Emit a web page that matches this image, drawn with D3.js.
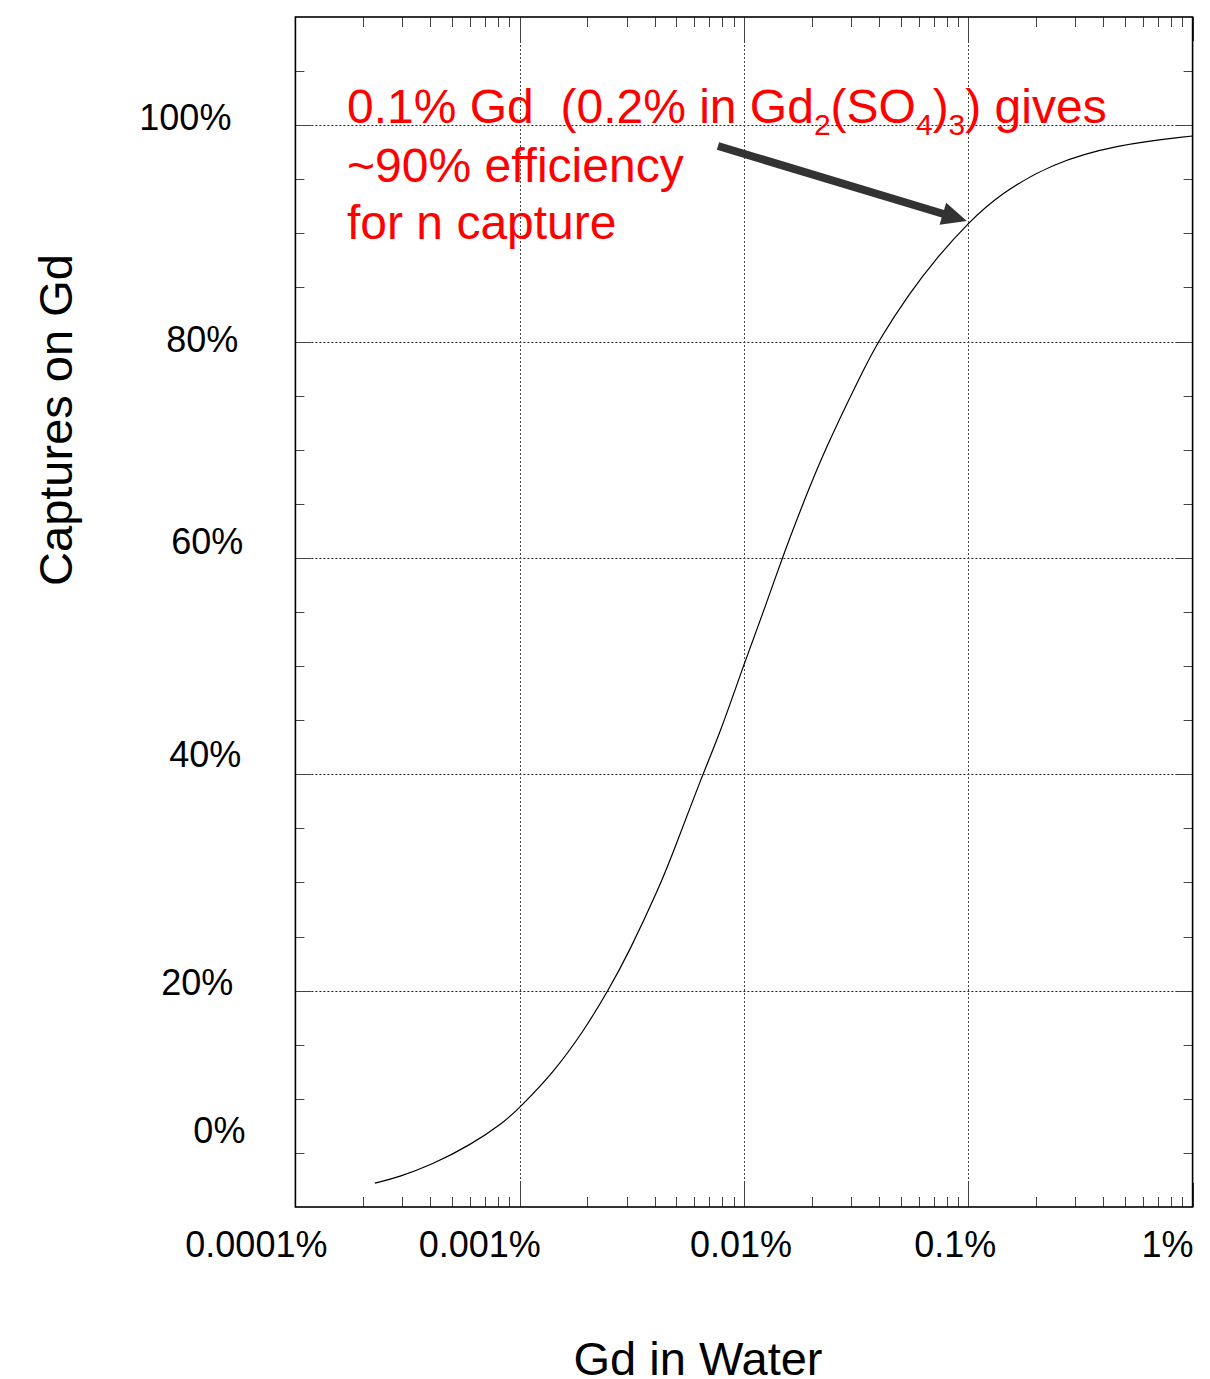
<!DOCTYPE html>
<html><head><meta charset="utf-8">
<script src="https://cdn.jsdelivr.net/npm/d3@7"></script>
<style>
body{margin:0;background:#fff}
svg{display:block}
text{font-family:"Liberation Sans",Arial,Helvetica,sans-serif}
</style>
</head><body>
<svg id="chart" width="1210" height="1379"></svg>
<script>
// ---------- DATA ----------
// Gd concentration in water (%) and fraction of neutron captures on Gd (%)
const gdConcentration = [0.000226, 0.000292, 0.000405, 0.0006, 0.00086, 0.001, 0.00141, 0.00192, 0.00248, 0.00308,
  0.0042, 0.00484, 0.00654, 0.00782, 0.01, 0.0126, 0.0148, 0.0183, 0.0229, 0.0339,
  0.0396, 0.0548, 0.072, 0.1, 0.138, 0.231, 0.458, 1.0];
const capturesOnGd = [2.2, 2.8, 3.9, 5.7, 7.9, 9.2, 12.4, 16.2, 20.0, 23.6,
  29.6, 32.8, 40.0, 43.8, 50.2, 55.8, 60.0, 65.0, 70.0, 77.3,
  80.0, 84.5, 87.7, 91.0, 93.6, 96.4, 98.2, 99.0];

const xTickValues = [0.0001, 0.001, 0.01, 0.1, 1];
const xTickLabels = ["0.0001%", "0.001%", "0.01%", "0.1%", "1%"];
const yTickValues = [100, 80, 60, 40, 20, 0];
const yTickLabels = ["100%", "80%", "60%", "40%", "20%", "0%"];
const xGridValues = [0.001, 0.01, 0.1];
const yGridValues = [20, 40, 60, 80, 100];
const annotatedPoint = [0.1, 91.1];

const xTitle = "Gd in Water";
const yTitle = "Captures on Gd";

// ---------- LAYOUT (not data) ----------
const plot = {left: 295.4, right: 1192.6, top: 17, bottom: 1207};
// label nudges, copying the hand-placed labels of the original
const xLabelDx = [-39, -40, -3, -13, -25];
const xLabelBaseline = 1257;
const yLabelDx = [-64, -57, -52, -54, -62, -50];
const yLabelDy = [5, 10, -4, -7, 4, -64];
const arrowTail = {x: 718, y: 146};

const svg = d3.select("#chart");
svg.append("rect").attr("width", 1210).attr("height", 1379).attr("fill", "#fff");

const x = d3.scaleLog().domain([0.0001, 1]).range([plot.left, plot.right]);
const y = d3.scaleLinear().domain([0, 110]).range([plot.bottom, plot.top]);

// gridlines
const grid = svg.append("g").attr("stroke", "#222").attr("stroke-width", 1).attr("stroke-dasharray", "2,2");
grid.selectAll("line.h").data(yGridValues).join("line").attr("class", "h")
  .attr("x1", plot.left).attr("x2", plot.right)
  .attr("y1", d => Math.round(y(d)) + 0.5).attr("y2", d => Math.round(y(d)) + 0.5);
grid.selectAll("line.v").data(xGridValues).join("line").attr("class", "v")
  .attr("stroke", "#444")
  .attr("y1", plot.top).attr("y2", plot.bottom)
  .attr("x1", d => Math.round(x(d)) + 0.5).attr("x2", d => Math.round(x(d)) + 0.5);

// ticks
const ticks = svg.append("g").attr("stroke", "#444").attr("stroke-width", 1);
const minorX = [];
for (let e = -4; e < 0; e++) for (let m = 2; m <= 9; m++) minorX.push(m * Math.pow(10, e));
const tickData = [];
minorX.forEach(v => tickData.push({v, len: 10}));
xTickValues.forEach(v => tickData.push({v, len: 24}));
ticks.selectAll("line.xb").data(tickData).join("line").attr("class", "xb")
  .attr("x1", d => Math.round(x(d.v)) + 0.5).attr("x2", d => Math.round(x(d.v)) + 0.5)
  .attr("y1", plot.bottom).attr("y2", d => plot.bottom - d.len);
ticks.selectAll("line.xt").data(tickData).join("line").attr("class", "xt")
  .attr("x1", d => Math.round(x(d.v)) + 0.5).attr("x2", d => Math.round(x(d.v)) + 0.5)
  .attr("y1", plot.top).attr("y2", d => plot.top + d.len);
const yTicks = d3.range(5, 110, 5).map(v => ({v, len: v % 20 === 0 ? 16 : 9}));
ticks.selectAll("line.yl").data(yTicks).join("line").attr("class", "yl")
  .attr("y1", d => Math.round(y(d.v)) + 0.5).attr("y2", d => Math.round(y(d.v)) + 0.5)
  .attr("x1", plot.left).attr("x2", d => plot.left + d.len);
ticks.selectAll("line.yr").data(yTicks).join("line").attr("class", "yr")
  .attr("y1", d => Math.round(y(d.v)) + 0.5).attr("y2", d => Math.round(y(d.v)) + 0.5)
  .attr("x1", plot.right).attr("x2", d => plot.right - d.len);

// frame
svg.append("rect").attr("x", plot.left).attr("y", plot.top)
  .attr("width", plot.right - plot.left).attr("height", plot.bottom - plot.top)
  .attr("fill", "none").attr("stroke", "#000").attr("stroke-width", 1.6);

// curve
const pts = gdConcentration.map((c, i) => [c, capturesOnGd[i]]);
const line = d3.line().x(d => x(d[0])).y(d => y(d[1])).curve(d3.curveBasis);
svg.append("path").datum(pts).attr("d", line)
  .attr("fill", "none").attr("stroke", "#000").attr("stroke-width", 1.2);

// tick labels
svg.append("g").selectAll("text").data(xTickValues).join("text")
  .attr("x", (d, i) => x(d) + xLabelDx[i]).attr("y", xLabelBaseline)
  .attr("text-anchor", "middle").attr("font-size", 36).attr("fill", "#000")
  .text((d, i) => xTickLabels[i]);
svg.append("g").selectAll("text").data(yTickValues).join("text")
  .attr("x", (d, i) => plot.left + yLabelDx[i]).attr("y", (d, i) => y(d) + yLabelDy[i])
  .attr("text-anchor", "end").attr("font-size", 36).attr("fill", "#000")
  .text((d, i) => yTickLabels[i]);

// axis titles
svg.append("text").attr("x", 698).attr("y", 1375).attr("text-anchor", "middle")
  .attr("font-size", 47).attr("fill", "#000").text(xTitle);
svg.append("text").attr("transform", "translate(72,420) rotate(-90)").attr("text-anchor", "middle")
  .attr("font-size", 47).attr("fill", "#000").text(yTitle);

// annotation text
const ann = svg.append("g").attr("fill", "#ff0000").attr("font-size", 48);
const l1 = ann.append("text").attr("x", 347).attr("y", 122.7);
const parts = [["0.1% Gd\u00A0 (0.2% in Gd", 0], ["2", 1], ["(SO", 0], ["4", 1], [")", 0], ["3", 1], [") gives", 0]];
let prevSub = 0;
parts.forEach(([t, sub]) => {
  const ts = l1.append("tspan").text(t);
  if (sub) ts.attr("font-size", 30);
  const dy = (sub - prevSub) * 12;
  if (dy) ts.attr("dy", dy);
  prevSub = sub;
});
ann.append("text").attr("x", 347).attr("y", 181.5).text("~90% efficiency");
ann.append("text").attr("x", 347).attr("y", 238.5).text("for n capture");

// arrow
const tip = [x(annotatedPoint[0]) - 1.5, y(annotatedPoint[1]) - 0.5];
const dx = tip[0] - arrowTail.x, dy = tip[1] - arrowTail.y;
const L = Math.hypot(dx, dy), ux = dx / L, uy = dy / L, px = -uy, py = ux;
const headLen = 25, headHalf = 11.5, shaftHalf = 4;
const bx = tip[0] - ux * headLen, by = tip[1] - uy * headLen;
const poly = [
  [arrowTail.x + px * shaftHalf, arrowTail.y + py * shaftHalf],
  [bx + px * shaftHalf, by + py * shaftHalf],
  [bx + px * headHalf, by + py * headHalf],
  tip,
  [bx - px * headHalf, by - py * headHalf],
  [bx - px * shaftHalf, by - py * shaftHalf],
  [arrowTail.x - px * shaftHalf, arrowTail.y - py * shaftHalf]
];
svg.append("polygon").attr("points", poly.map(p => p.join(",")).join(" ")).attr("fill", "#333");
</script>
</body></html>
